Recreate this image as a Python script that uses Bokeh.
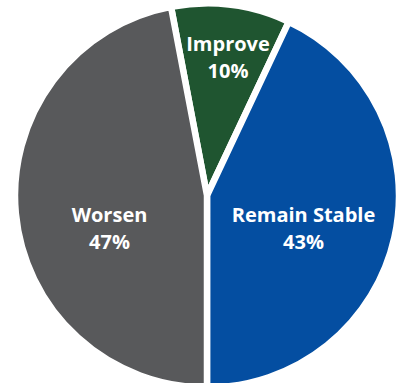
import math
from bokeh.plotting import figure
from bokeh.models import Range1d, ColumnDataSource
from bokeh.core.properties import value
from bokeh.embed import file_html
from bokeh.resources import INLINE

# ---- data ----
categories = ["Improve", "Remain Stable", "Worsen"]
shares = [10, 43, 47]
pct_labels = ["10%", "43%", "47%"]
colors = ["#1F5530", "#044EA1", "#58595B"]

# ---- layout constants ----
W, H = 401, 383
CX, CY = 206.5, H - 195.0
R = 192.0
# label anchor (center x, name baseline y in screen px)
label_anchor = {
    "Improve": (227.5, 42.5),
    "Remain Stable": (303.0, 214.0),
    "Worsen": (109.0, 214.0),
}
line_gap = 27.0

total = float(sum(shares))
frac = [s / total for s in shares]
# clockwise angle from top where Improve starts (Remain Stable ends at the bottom)
theta0 = 180.0 - (frac[0] + frac[1]) * 360.0
starts, ends = [], []
acc = theta0
for f in frac:
    a0 = acc
    a1 = acc + f * 360.0
    starts.append(math.radians(90.0 - a1))
    ends.append(math.radians(90.0 - a0))
    acc = a1

src = ColumnDataSource(dict(cat=categories, start=starts, end=ends, color=colors))

p = figure(width=W, height=H, output_backend="svg", toolbar_location=None,
           x_range=Range1d(0, W), y_range=Range1d(0, H), min_border=0)
p.axis.visible = False
p.grid.visible = False
p.outline_line_color = None
p.background_fill_color = "white"
p.border_fill_color = "white"

p.wedge(x=CX, y=CY, radius=R, start_angle="start", end_angle="end",
        fill_color="color", line_color="white", line_width=6.5, source=src)

names_x, names_y, pcts_y = [], [], []
for c in categories:
    ax, ay = label_anchor[c]
    names_x.append(ax)
    names_y.append(H - ay)
    pcts_y.append(H - ay - line_gap)

lsrc = ColumnDataSource(dict(x=names_x, y=names_y, y2=pcts_y, name=categories, pct=pct_labels))
common = dict(text_color="white", text_font=value("Open Sans"), text_font_style="bold",
              text_font_size="20px", text_align="center", text_baseline="alphabetic")
p.text(x="x", y="y", text="name", source=lsrc, **common)
p.text(x="x", y="y2", text="pct", source=lsrc, **common)

open("out.html", "w").write(file_html(p, INLINE))
